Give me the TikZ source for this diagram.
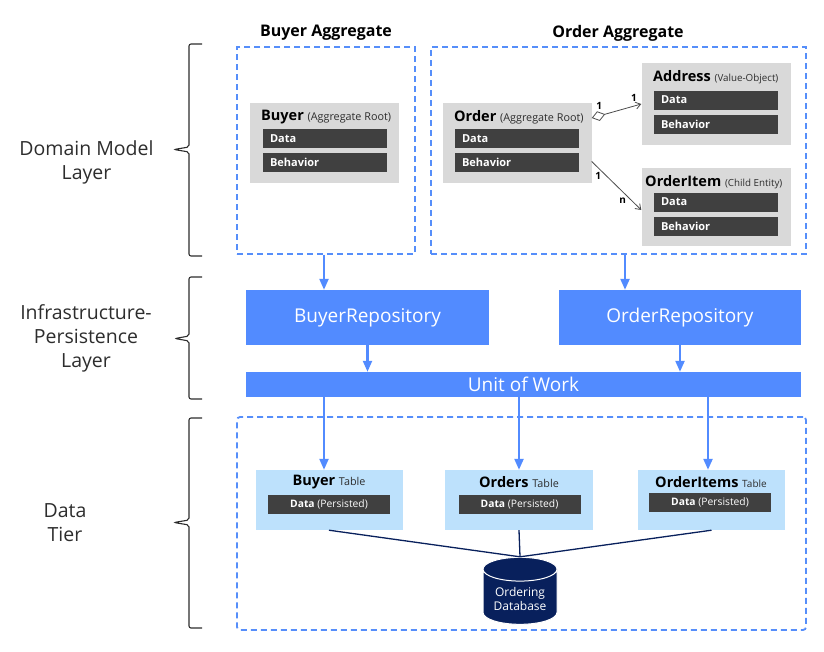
\documentclass[tikz,border=0pt]{standalone}
\usepackage{fontspec}
\setmainfont{Open Sans}
\usetikzlibrary{arrows.meta,shapes.geometric}
\definecolor{repoblue}{RGB}{82,139,255}
\definecolor{dashblue}{RGB}{86,142,250}
\definecolor{entgray}{RGB}{217,217,217}
\definecolor{bargray}{RGB}{64,64,64}
\definecolor{tableblue}{RGB}{189,225,252}
\definecolor{dbnavy}{RGB}{8,32,92}
\definecolor{inkgray}{RGB}{45,45,45}
\newcommand\subttl[1][10.8]{\fontsize{#1}{12}\selectfont\mdseries\color{inkgray}}

\begin{document}
\begin{tikzpicture}[x=1pt, y=-1pt,
    every node/.style={inner sep=0pt, text=inkgray},
    layertext/.style={align=center, font=\fontsize{19.5}{24}\selectfont},
    bracket/.style={draw=inkgray, line width=1.1pt, rounded corners=2pt},
    aggbox/.style={draw=dashblue, line width=1.4pt, dash pattern=on 6pt off 4pt},
    aggtitle/.style={font=\fontsize{16}{18}\selectfont\bfseries, text=black},
    entity/.style={fill=entgray, minimum width=149pt},
    enttitle/.style={anchor=west, font=\fontsize{14.5}{16}\selectfont\bfseries, text=black},
    bar/.style={fill=bargray, text=white, minimum width=124pt, minimum height=19pt,
                text width=110pt, font=\fontsize{11}{12}\selectfont\bfseries},
    assoc/.style={draw=black!70, line width=.8pt},
    mult/.style={font=\fontsize{10}{11}\selectfont\bfseries, text=black},
    repo/.style={fill=repoblue, text=white, minimum height=55pt, font=\fontsize{19}{22}\selectfont},
    flow/.style={draw=repoblue, line width=2.2pt, -{Triangle[length=11pt, width=9pt]}},
    table/.style={fill=tableblue, minimum width=147pt, minimum height=60pt},
    tabtitle/.style={font=\fontsize{14.5}{16}\selectfont\bfseries, text=black},
    tabbar/.style={fill=bargray, text=white, minimum width=122pt, minimum height=19pt,
                   font=\fontsize{10.3}{12}\selectfont},
    dblink/.style={draw=dbnavy, line width=1.3pt}]
  \useasboundingbox (0,0) rectangle (824,651);

  % layer labels and brackets
  \node[layertext] (domainlbl) at (86.5,162) {Domain Model\\Layer};
  \node[layertext] (infralbl) at (86,338) {Infrastructure-\\Persistence\\Layer};
  \node[layertext] (datalbl) at (65,523) {Data\\Tier};
  \draw[bracket] (202,44) -- (189,44) -- (189,147) -- (174,149.5) -- (189,152) -- (189,256) -- (202,256);
  \draw[bracket] (202,277) -- (189,277) -- (189,336) -- (175,338.5) -- (189,341) -- (189,399) -- (202,399);
  \draw[bracket] (202,418) -- (189,418) -- (189,520) -- (174,522.5) -- (189,525) -- (189,628) -- (202,628);

  % aggregates
  \node[aggbox, minimum width=178pt, minimum height=207pt] (buyeragg) at (326,150.5) {};
  \node[aggbox, minimum width=375pt, minimum height=207pt] (orderagg) at (618.5,150.5) {};
  \node[aggtitle] (buyeraggt) at (326,33) {Buyer Aggregate};
  \node[aggtitle] (orderaggt) at (618,33) {Order Aggregate};

  % entities
  \node[entity, minimum height=80pt] (buyer) at (324.5,143) {};
  \node[enttitle] (buyert) at (261,117) {Buyer {\subttl (Aggregate Root)}};
  \node[bar] (buyerdata) at (325,138.5) {Data};
  \node[bar] (buyerbeh) at (325,162.5) {Behavior};

  \node[entity, minimum height=80pt] (order) at (517,143) {};
  \node[enttitle] (ordert) at (454,117) {Order {\subttl (Aggregate Root)}};
  \node[bar] (orderdata) at (517,138.5) {Data};
  \node[bar] (orderbeh) at (517,162.5) {Behavior};

  \node[entity, minimum height=82pt] (address) at (716,104) {};
  \node[enttitle] (addresst) at (653,77) {Address {\subttl[9.8] (Value-Object)}};
  \node[bar] (addrdata) at (716,100) {Data};
  \node[bar] (addrbeh) at (716,124) {Behavior};

  \node[entity, minimum height=78pt] (orderitem) at (716,207) {};
  \node[enttitle] (orderitemt) at (645,182) {OrderItem {\subttl[9.8] (Child Entity)}};
  \node[bar] (itemdata) at (716,202) {Data};
  \node[bar] (itembeh) at (716,226) {Behavior};

  % associations
  \draw[assoc, {Diamond[open, length=14pt, width=10pt]}-{Straight Barb[length=5pt, width=7pt]}]
    ([yshift=25pt]order.east) -- (address.west)
    node[mult, pos=0.15, above=6pt] (m1) {1}
    node[mult, pos=0.85, above=4pt] (m2) {1};
  \draw[assoc, -{Straight Barb[length=5pt, width=7pt]}]
    ([yshift=-18.5pt]order.east) -- ([yshift=-3pt]orderitem.west)
    node[mult, pos=0.13, below=4pt] (m3) {1}
    node[mult, pos=0.8, left=5pt] (m4) {n};

  % repositories
  \node[repo, minimum width=243pt] (buyerrepo) at (367.5,317.5) {BuyerRepository};
  \node[repo, minimum width=242pt] (orderrepo) at (680,317.5) {OrderRepository};
  \node[repo, minimum width=555pt, minimum height=25pt] (uow) at (523.5,384.5) {Unit of Work};
  \draw[flow] ([xshift=-2pt]buyeragg.south) -- ([xshift=-2pt]buyeragg.south |- buyerrepo.north);
  \draw[flow] ([xshift=6.5pt]orderagg.south) -- ([xshift=6.5pt]orderagg.south |- orderrepo.north);
  \draw[flow] (buyerrepo.south) -- (buyerrepo.south |- uow.north);
  \draw[flow] (orderrepo.south) -- (orderrepo.south |- uow.north);

  % data tier
  \node[aggbox, line width=1.8pt, rounded corners=3pt, minimum width=569pt, minimum height=213pt] (datatier) at (521.5,523.5) {};
  \node[table] (buyertab) at (329,500) {};
  \node[table, minimum width=148pt] (orderstab) at (519,500) {};
  \node[table] (itemstab) at (711.5,500) {};
  \node[tabtitle] (buyertabt) at (329,482.5) {Buyer {\subttl Table}};
  \node[tabtitle] (orderstabt) at (519,482.5) {Orders {\subttl Table}};
  \node[tabtitle] (itemstabt) at (711,482.5) {OrderItems {\subttl[10] Table}};
  \node[tabbar] (buyertabd) at (329,504.5) {\textbf{Data} (Persisted)};
  \node[tabbar] (orderstabd) at (519.5,504.5) {\textbf{Data} (Persisted)};
  \node[tabbar] (itemstabd) at (710,502) {\textbf{Data} (Persisted)};
  \draw[flow] ([xshift=-5pt]buyertab.north |- uow.south) -- ([xshift=-5pt]buyertab.north);
  \draw[flow] (orderstab.north |- uow.south) -- (orderstab.north);
  \draw[flow] ([xshift=-3.5pt]itemstab.north |- uow.south) -- ([xshift=-3.5pt]itemstab.north);

  % database
  \node[cylinder, shape border rotate=90, aspect=0.45, fill=dbnavy, draw=white, line width=1pt,
        minimum width=74pt, minimum height=67pt, align=center, text=white,
        font=\fontsize{12}{14}\selectfont] (db) at (520,597) {\\[-1pt]Ordering\\Database};
  \draw[dblink] (buyertab.south) -- (db.north);
  \draw[dblink] (orderstab.south) -- (db.north);
  \draw[dblink] (itemstab.south) -- (db.north);
\end{tikzpicture}
\end{document}
